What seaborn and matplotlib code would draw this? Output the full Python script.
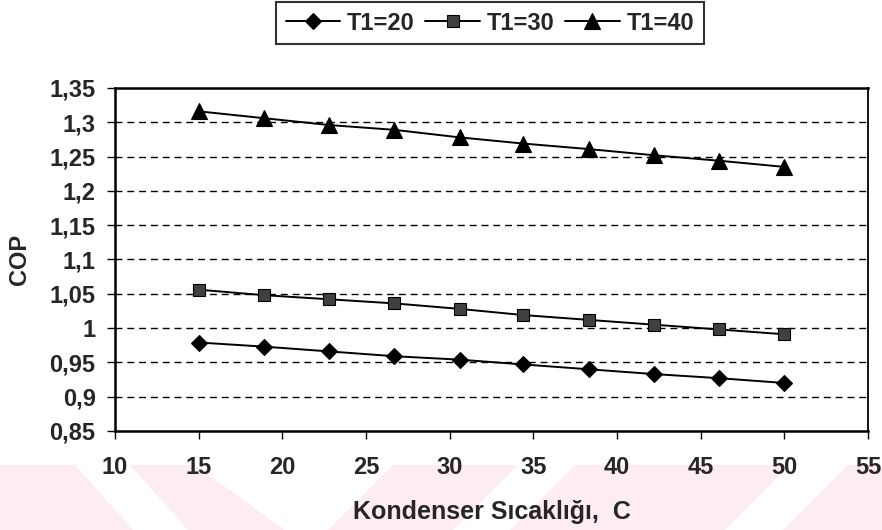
import numpy as np
import pandas as pd
import matplotlib
matplotlib.use("Agg")
import matplotlib.pyplot as plt
from matplotlib.patches import Polygon
import seaborn as sns

# values
kondenser_sicakligi = [15, 18.9, 22.8, 26.7, 30.6, 34.4, 38.3, 42.2, 46.1, 50]
cop_t1_20 = [0.979, 0.973, 0.966, 0.959, 0.954, 0.947, 0.940, 0.933, 0.927, 0.920]
cop_t1_30 = [1.056, 1.048, 1.042, 1.036, 1.028, 1.019, 1.012, 1.005, 0.998, 0.991]
cop_t1_40 = [1.316, 1.306, 1.296, 1.289, 1.278, 1.269, 1.261, 1.252, 1.244, 1.235]
seri_adlari = ["T1=20", "T1=30", "T1=40"]

x_ticks = [10, 15, 20, 25, 30, 35, 40, 45, 50, 55]
y_ticks = [0.85, 0.9, 0.95, 1.0, 1.05, 1.1, 1.15, 1.2, 1.25, 1.3, 1.35]
y_tick_labels = ["0,85", "0,9", "0,95", "1", "1,05", "1,1", "1,15", "1,2", "1,25", "1,3", "1,35"]

def main():
    sns.set_style("white")
    plt.rcParams["font.family"] = ["Liberation Sans", "DejaVu Sans"]
    plt.rcParams["font.weight"] = "bold"

    fig = plt.figure(figsize=(8.82, 5.30), dpi=100)
    ax = fig.add_axes([115 / 882, 1 - 431 / 530, 753 / 882, 343 / 530])
    ax.patch.set_alpha(0)

    # faint pink watermark stripes at the bottom (background decoration)
    pembe = "#fdedf0"
    serit = [
        [(-80, 465), (75, 465), (133, 530), (-22, 530)],
        [(130, 465), (195, 465), (285, 530), (188, 530)],
        [(393, 465), (518, 465), (453, 530), (328, 530)],
        [(575, 465), (790, 465), (725, 530), (510, 530)],
        [(848, 465), (1000, 465), (935, 530), (783, 530)],
    ]
    for s in serit:
        fig.patches.append(Polygon([(px / 882, 1 - py / 530) for px, py in s],
                                   closed=True, transform=fig.transFigure,
                                   facecolor=pembe, edgecolor="none", zorder=-5))

    seriler = [cop_t1_20, cop_t1_30, cop_t1_40]
    isaretler = ["D", "s", "^"]
    boyutlar = [8, 8, 11]
    yuzler = ["black", "#404040", "black"]
    for ad, cop, m, ms, fc in zip(seri_adlari, seriler, isaretler, boyutlar, yuzler):
        df = pd.DataFrame({"T": kondenser_sicakligi, "COP": cop})
        sns.lineplot(data=df, x="T", y="COP", ax=ax, color="black", lw=1.4,
                     marker=m, markersize=ms, markerfacecolor=fc,
                     markeredgecolor="black", markeredgewidth=0.8, label=ad)

    ax.set_xlim(10, 55)
    ax.set_ylim(0.85, 1.35)
    ax.set_xticks(x_ticks)
    ax.set_xticklabels([str(v) for v in x_ticks])
    ax.set_yticks(y_ticks)
    ax.set_yticklabels(y_tick_labels)
    ax.tick_params(axis="both", direction="out", length=6, width=1, color="black",
                   labelsize=17, left=True, bottom=True)
    ax.tick_params(axis="y", pad=8)
    ax.tick_params(axis="x", pad=12)
    for lab in ax.get_xticklabels() + ax.get_yticklabels():
        lab.set_fontweight("bold")

    for y in y_ticks[1:-1]:
        ax.axhline(y, color="black", lw=1, ls=(0, (5, 3.5)), zorder=0.5)

    for side in ["left", "bottom", "top"]:
        ax.spines[side].set_linewidth(1.8)
        ax.spines[side].set_color("black")
    ax.spines["right"].set_linewidth(1.3)
    ax.spines["right"].set_color("black")

    ax.set_xlabel("Kondenser Sıcaklığı,  C", fontsize=18, fontweight="bold")
    ax.set_ylabel("COP", fontsize=17, fontweight="bold")
    ax.xaxis.set_label_coords(0.5, -0.2)
    ax.yaxis.set_label_coords(-0.112, 0.5)

    ax.legend_.remove()
    h, l = ax.get_legend_handles_labels()
    leg = fig.legend(h, l, loc="center", bbox_to_anchor=(490 / 882, 1 - 23 / 530),
                     ncol=3, frameon=True, fancybox=False, edgecolor="black",
                     prop={"size": 17, "weight": "bold"}, handlelength=2.3,
                     handletextpad=0.3, columnspacing=0.45, borderpad=0.4,
                     borderaxespad=0)
    leg.get_frame().set_linewidth(1.5)

    fig.savefig("out.png", dpi=100)

if __name__ == '__main__':
    main()
